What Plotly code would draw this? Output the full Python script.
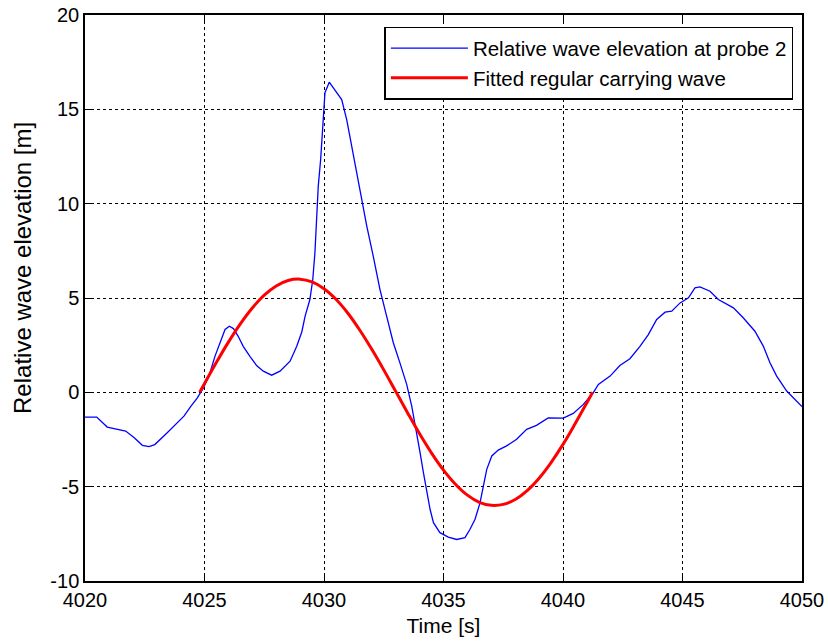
import plotly.graph_objects as go

# Measured relative wave elevation at probe 2
probe_time = [
    4020.00, 4020.49, 4020.93, 4021.35, 4021.70, 4022.05, 4022.40, 4022.68, 4022.92, 4023.44,
    4024.14, 4024.42, 4024.70, 4024.96, 4025.23, 4025.44, 4025.65, 4025.86, 4026.04, 4026.21,
    4026.41, 4026.62, 4026.90, 4027.18, 4027.46, 4027.81, 4028.16, 4028.58, 4028.86, 4029.07,
    4029.21, 4029.41, 4029.53, 4029.62, 4029.69, 4029.76, 4029.86, 4029.94, 4030.04, 4030.22,
    4030.39, 4030.56, 4030.74, 4030.95, 4031.23, 4031.51, 4031.79, 4032.06, 4032.34, 4032.62,
    4032.90, 4033.18, 4033.46, 4033.67, 4033.88, 4034.02, 4034.16, 4034.30, 4034.44, 4034.58,
    4034.85, 4035.20, 4035.55, 4035.90, 4036.11, 4036.32, 4036.53, 4036.67, 4036.81, 4037.02,
    4037.29, 4037.64, 4038.06, 4038.48, 4038.89, 4039.38, 4040.01, 4040.43, 4040.85, 4041.27,
    4041.48, 4041.97, 4042.38, 4042.80, 4043.22, 4043.57, 4043.92, 4044.27, 4044.55, 4044.90,
    4045.25, 4045.52, 4045.73, 4046.15, 4046.50, 4047.13, 4047.54, 4048.03, 4048.38, 4048.66,
    4048.94, 4049.36, 4049.78, 4050.00,
]
probe_elev = [
    -1.31, -1.31, -1.84, -1.97, -2.05, -2.40, -2.81, -2.88, -2.77, -2.14,
    -1.26, -0.76, -0.29, 0.25, 1.04, 1.92, 2.62, 3.33, 3.50, 3.38,
    2.97, 2.44, 1.91, 1.42, 1.12, 0.91, 1.12, 1.65, 2.44, 3.20,
    4.04, 4.92, 5.98, 7.40, 9.16, 10.93, 12.34, 14.11, 15.88, 16.44,
    16.14, 15.88, 15.52, 14.46, 12.52, 10.58, 8.81, 7.22, 5.46, 4.04,
    2.63, 1.55, 0.42, -0.73, -2.14, -3.20, -4.26, -5.32, -6.21, -6.91,
    -7.44, -7.67, -7.80, -7.70, -7.26, -6.73, -5.85, -4.96, -4.08, -3.37,
    -3.06, -2.84, -2.49, -1.96, -1.75, -1.36, -1.37, -1.12, -0.64, -0.02,
    0.42, 0.86, 1.42, 1.78, 2.44, 3.06, 3.86, 4.25, 4.30, 4.74,
    5.01, 5.54, 5.59, 5.36, 4.92, 4.48, 3.95, 3.24, 2.45, 1.57,
    0.86, 0.07, -0.46, -0.76,
]

# Fitted regular carrying wave (one period)
fit_time = [
    4024.80, 4025.50, 4026.00, 4026.50, 4027.00, 4027.50, 4028.00, 4028.50, 4029.00, 4029.50,
    4030.00, 4030.50, 4031.00, 4031.50, 4032.00, 4032.50, 4033.00, 4033.50, 4034.00, 4034.50,
    4035.00, 4035.50, 4036.00, 4036.50, 4037.00, 4037.50, 4038.00, 4038.50, 4039.00, 4039.50,
    4040.00, 4040.50, 4041.00, 4041.24,
]
fit_elev = [
    0.00, 1.59, 2.66, 3.63, 4.47, 5.15, 5.64, 5.93, 6.00, 5.85,
    5.49, 4.93, 4.19, 3.29, 2.28, 1.19, 0.05, -1.09, -2.20, -3.22,
    -4.12, -4.87, -5.45, -5.83, -5.99, -5.94, -5.68, -5.21, -4.55, -3.72,
    -2.76, -1.68, -0.55, 0.00,
]

x_ticks = [4020, 4025, 4030, 4035, 4040, 4045, 4050]
y_ticks = [-10, -5, 0, 5, 10, 15, 20]

font_family = "Liberation Sans, Arial, sans-serif"

fig = go.Figure()
fig.add_trace(go.Scatter(
    x=probe_time, y=probe_elev, mode="lines",
    name="Relative wave elevation at probe 2",
    line=dict(color="#0000ff", width=1.3),
))
fig.add_trace(go.Scatter(
    x=fit_time, y=fit_elev, mode="lines",
    name="Fitted regular carrying wave",
    line=dict(color="#ff0000", width=3, shape="spline"),
))

axis_common = dict(
    showline=True, linecolor="black", linewidth=1.5, mirror="allticks",
    ticks="inside", ticklen=6, tickcolor="black", tickwidth=1,
    showgrid=True, gridcolor="black", gridwidth=1, griddash="dot",
    zeroline=False, automargin=False,
    tickfont=dict(family=font_family, size=20, color="black"),
)

fig.update_xaxes(
    range=[4020, 4050], tickvals=x_ticks, ticktext=[str(v) for v in x_ticks],
    title=dict(text="Time [s]", font=dict(family=font_family, size=21, color="black"), standoff=9),
    **axis_common,
)
fig.update_yaxes(
    range=[-10, 20], tickvals=y_ticks, ticktext=[str(v) for v in y_ticks],
    **axis_common,
)

# Vertical axis label, placed as rotated text beside the y axis
fig.add_annotation(
    text="Relative wave elevation [m]",
    xref="paper", yref="paper", x=-0.0879, y=0.553,
    xanchor="center", yanchor="middle", textangle=-90, showarrow=False,
    font=dict(family=font_family, size=24, color="black"),
)

fig.update_layout(
    width=828, height=643,
    margin=dict(l=85, r=26, t=15, b=62),
    paper_bgcolor="white", plot_bgcolor="white",
    font=dict(family=font_family, size=20, color="black"),
    showlegend=True,
    legend=dict(
        x=0.988, y=0.979, xanchor="right", yanchor="top",
        bgcolor="white", bordercolor="black", borderwidth=1.5,
        font=dict(family=font_family, size=20.5, color="black"),
        itemwidth=77,
    ),
)

fig.write_html("out.html")
